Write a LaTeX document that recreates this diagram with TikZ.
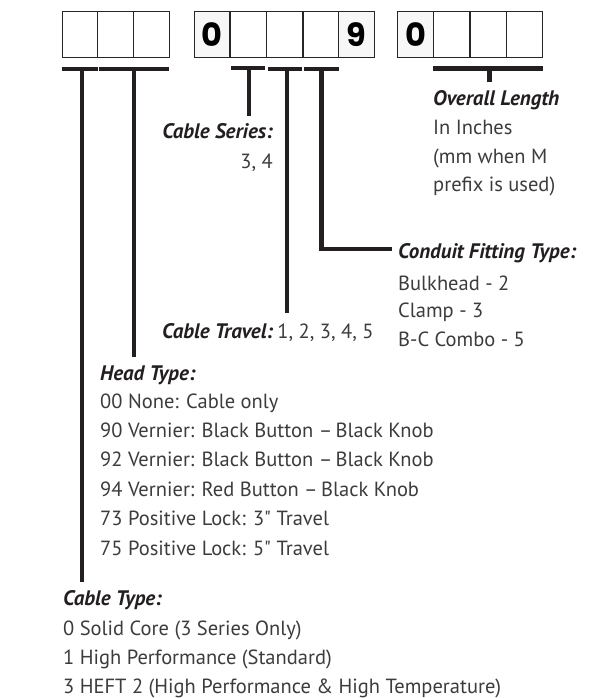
\documentclass[tikz,border=0pt]{standalone}
\usepackage{fontspec}
\newfontfamily\bodyfont{PT Sans}
\newfontfamily\headfont{PT Sans}
\newfontfamily\digitfont{Poppins}
\definecolor{ink}{HTML}{231F20}
\definecolor{txt}{HTML}{3C3C3C}
\begin{document}
\begin{tikzpicture}[x=1pt,y=-1pt,
 cell/.style={draw=black!85, line width=0.9pt, minimum width=35.8pt, minimum height=46pt, inner sep=0pt, fill=white},
 dcell/.style={cell, fill=black!3, font=\digitfont\bfseries\fontsize{32}{32}\selectfont, text=black},
 bar/.style={line width=4.5pt, draw=ink},
 head/.style={anchor=base west, inner sep=0pt, font=\headfont\bfseries\itshape\fontsize{21}{21}\selectfont, text=ink},
 body/.style={anchor=base west, inner sep=0pt, font=\bodyfont\fontsize{20.5}{20.5}\selectfont, text=txt}]
\useasboundingbox (0,0) rectangle (592,698);
% cells
\foreach \i/\x in {1/80.0,2/115.5,3/151.2} \node[cell] (a\i) at (\x,34.3) {};
\node[dcell] (b1) at (212,34.3) {0};
\foreach \i/\x in {2/248.3,3/284.7,4/321} \node[cell] (b\i) at (\x,34.3) {};
\node[dcell] (b5) at (356.3,34.3) {9};
\node[dcell] (c1) at (415.8,34.3) {0};
\foreach \i/\x in {2/451.7,3/488.3,4/524.2} \node[cell] (c\i) at (\x,34.3) {};
% bar coordinates
\coordinate (ta1) at (62.3,69); \coordinate (ta2) at (97.7,69);
\coordinate (tb1) at (99,69); \coordinate (tb2) at (169,69);
\coordinate (tc1) at (231,67.8); \coordinate (tc2) at (265,67.8);
\coordinate (td1) at (268,69); \coordinate (td2) at (301.7,69);
\coordinate (te1) at (304,69); \coordinate (te2) at (339,69);
\coordinate (tf1) at (433,68.3); \coordinate (tf2) at (542.7,68.3);
\draw[bar] (ta1) -- (ta2);
\draw[bar] (tb1) -- (tb2);
\draw[bar] (tc1) -- (tc2);
\draw[bar] (td1) -- (td2);
\draw[bar] (te1) -- (te2);
\draw[bar] (tf1) -- (tf2);
% texts
\node[head] (ol) at (433,106) {Overall Length};
\node[body] (ol1) at (433,135) {In Inches};
\node[body] (ol2) at (433,163) {(mm when M};
\node[body] (ol3) at (433,191) {prefix is used)};
\node[head, anchor=base east] (cs) at (273,138) {Cable Series:};
\node[body, anchor=base east] (cs1) at (273,168) {3, 4};
\node[head] (cf) at (398,258) {Conduit Fitting Type:};
\node[body] (cf1) at (398,290) {Bulkhead - 2};
\node[body] (cf2) at (398,317.5) {Clamp - 3};
\node[body] (cf3) at (398,346) {B-C Combo - 5};
\node[head] (ct) at (162,338) {Cable Travel:};
\node[body, xshift=4pt] (ct1) at (ct.base east) {1, 2, 3, 4, 5};
\node[head] (ht) at (100,380) {Head Type:};
\node[body] (ht1) at (100,408) {00 None: Cable only};
\node[body] (ht2) at (100,437.4) {90 Vernier: Black Button –\,Black Knob};
\node[body] (ht3) at (100,466.8) {92 Vernier: Black Button –\,Black Knob};
\node[body] (ht4) at (100,496.2) {94 Vernier: Red Button –\,Black Knob};
\node[body] (ht5) at (100,525.6) {73 Positive Lock: 3" Travel};
\node[body] (ht6) at (100,555) {75 Positive Lock: 5" Travel};
\node[head] (cty) at (63,605) {Cable Type:};
\node[body] (cty1) at (63,635) {0 Solid Core (3 Series Only)};
\node[body] (cty2) at (63,664) {1 High Performance (Standard)};
\node[body] (cty3) at (63,693) {3 HEFT 2 (High Performance \& High Temperature)};
% stems
\coordinate (sa) at (82,69); \coordinate (sa2) at (82,582);
\coordinate (sb) at (134,69); \coordinate (sb2) at (134,357);
\coordinate (sc) at (249,67.8); \coordinate (sc2) at (249,116);
\coordinate (sd) at (287,69); \coordinate (sd2) at (287,313);
\coordinate (se) at (321.5,69); \coordinate (se2) at (321.5,249); \coordinate (se3) at (392,249);
\coordinate (sf) at (489.5,68.3); \coordinate (sf2) at (489.5,82);
\draw[bar] (sa) -- (sa2);
\draw[bar] (sb) -- (sb2);
\draw[bar] (sc) -- (sc2);
\draw[bar] (sd) -- (sd2);
\draw[bar] (se) -- (se2) -- (se3);
\draw[bar] (sf) -- (sf2);
\end{tikzpicture}
\end{document}
